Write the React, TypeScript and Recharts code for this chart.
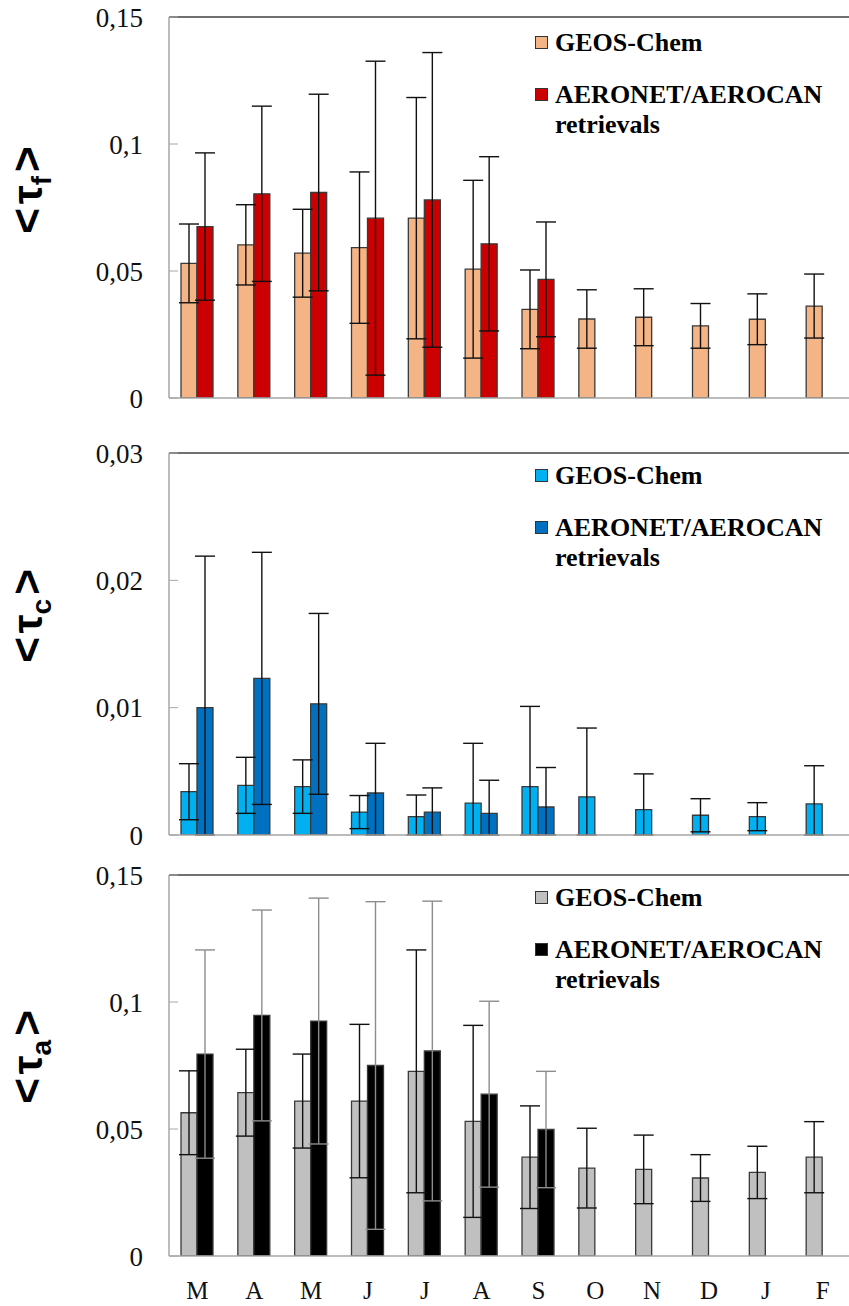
import React from 'react';
import { BarChart, Bar, XAxis, YAxis, ErrorBar, ReferenceLine, Legend } from 'recharts';

const months = ['M', 'A', 'M', 'J', 'J', 'A', 'S', 'O', 'N', 'D', 'J', 'F'];

// fine mode AOD
const fineModel = [0.053, 0.0603, 0.057, 0.0592, 0.0708, 0.0507, 0.0349, 0.0311, 0.0318, 0.0284, 0.031, 0.0362];
const fineModelErr = [0.0155, 0.0158, 0.0173, 0.0298, 0.0475, 0.035, 0.0155, 0.0115, 0.0112, 0.0088, 0.01, 0.0126];
const fineObs = [0.0675, 0.0804, 0.0809, 0.0708, 0.078, 0.0607, 0.0467, null, null, null, null, null];
const fineObsErr = [0.029, 0.0345, 0.0387, 0.0618, 0.058, 0.0343, 0.0226, null, null, null, null, null];

// coarse mode AOD
const coarseModel = [0.0034, 0.0039, 0.0038, 0.0018, 0.00144, 0.0025, 0.0038, 0.003, 0.002, 0.00155, 0.00144, 0.00244];
const coarseModelErr = [0.0022, 0.0022, 0.0021, 0.0013, 0.0017, 0.0047, 0.0063, 0.0054, 0.0028, 0.0013, 0.0011, 0.003];
const coarseObs = [0.01, 0.0123, 0.0103, 0.0033, 0.0018, 0.0017, 0.0022, null, null, null, null, null];
const coarseObsErr = [0.0119, 0.0099, 0.0071, 0.0039, 0.0019, 0.0026, 0.0031, null, null, null, null, null];

// total AOD
const totalModel = [0.0564, 0.0643, 0.061, 0.061, 0.0727, 0.053, 0.0389, 0.0346, 0.0341, 0.0307, 0.0329, 0.0389];
const totalModelErr = [0.0165, 0.0171, 0.0185, 0.0302, 0.0478, 0.0378, 0.0202, 0.0157, 0.0135, 0.0092, 0.0103, 0.014];
const totalObs = [0.0795, 0.0947, 0.0925, 0.075, 0.0807, 0.0637, 0.0498, null, null, null, null, null];
const totalObsErr = [0.041, 0.0415, 0.0484, 0.0645, 0.059, 0.0366, 0.0229, null, null, null, null, null];

const ticksFT = [0, 0.05, 0.1, 0.15];
const ticksC = [0, 0.01, 0.02, 0.03];

const modelName = 'GEOS-Chem';
const obsName = 'AERONET/AEROCAN retrievals';

// error bars stop at the axis, as in the original figure
const clipErr = (v: number | null, e: number | null) =>
  v == null || e == null ? null : [Math.min(e, v), e];

const build = (m: number[], me: number[], o: (number | null)[], oe: (number | null)[]) =>
  months.map((month, i) => ({
    month,
    model: m[i],
    modelErr: clipErr(m[i], me[i]),
    obs: o[i],
    obsErr: clipErr(o[i], oe[i]),
  }));

const serif = "'Liberation Serif', 'Times New Roman', serif";
const sans = "'Liberation Sans', Arial, sans-serif";

const fmt = (v: number) => String(v).replace('.', ',');

const LegendBox = ({ c1, c2 }: { c1: string; c2: string }) => {
  const marker = (c: string) => (
    <span style={{ display: 'inline-block', width: 11, height: 11, border: '1px solid #333', background: c, marginTop: 8, marginRight: 7, flex: 'none' }} />
  );
  return (
    <div style={{ fontFamily: serif, fontWeight: 'bold', fontSize: 26, lineHeight: '30px', color: '#000', textAlign: 'left' }}>
      <div style={{ display: 'flex', marginBottom: 22 }}>
        {marker(c1)}
        <span>{modelName}</span>
      </div>
      <div style={{ display: 'flex' }}>
        {marker(c2)}
        <span>AERONET/AEROCAN<br />retrievals</span>
      </div>
    </div>
  );
};

type PanelProps = {
  top: number;
  height: number;
  marginTop: number;
  axisHeight: number;
  data: any[];
  max: number;
  ticks: number[];
  c1: string;
  c2: string;
  obsErrColor: string;
  sub: string;
  titleY: number;
  legendTop: number;
  showMonths?: boolean;
};

const Panel = (p: PanelProps) => (
  <div style={{ position: 'absolute', left: 0, top: p.top }}>
    <BarChart
      width={851}
      height={p.height}
      data={p.data}
      margin={{ top: p.marginTop, right: 0, bottom: 0, left: 0 }}
      barSize={16}
      barGap={0}
    >
      <XAxis
        dataKey="month"
        height={p.axisHeight}
        axisLine={{ stroke: '#a6a6a6', strokeWidth: 1.5 }}
        tickLine={false}
        tick={p.showMonths ? { fontFamily: serif, fontSize: 25, fill: '#111' } : false}
        tickMargin={19}
        interval={0}
      />
      <YAxis
        width={169}
        domain={[0, p.max]}
        ticks={p.ticks}
        interval={0}
        allowDataOverflow
        tickFormatter={fmt}
        axisLine={{ stroke: '#a6a6a6', strokeWidth: 1.5 }}
        tickLine={{ stroke: '#a6a6a6' }}
        tickSize={-9}
        tickMargin={35}
        tick={{ fontFamily: serif, fontSize: 27, fill: '#111' }}
        label={{
          content: () => (
            <text
              transform={`translate(42,${p.titleY}) rotate(-90)`}
              textAnchor="middle"
              fontFamily={sans}
              fontWeight="bold"
              fontSize={44}
              fill="#000"
            >
              {'<'}
              <tspan dx={4} fontSize={42}>τ</tspan>
              <tspan dy={9} fontSize={28}>{p.sub}</tspan>
              <tspan dy={-9} dx={4} fontSize={44}>{'>'}</tspan>
            </text>
          ),
        }}
      />
      <ReferenceLine y={p.max} stroke="#404040" strokeWidth={1.5} />
      <Bar dataKey="model" name={modelName} fill={p.c1} stroke="#3a3a3a" strokeWidth={1.3} isAnimationActive={false}>
        <ErrorBar dataKey="modelErr" width={10} stroke="#111" strokeWidth={1.4} direction="y" />
      </Bar>
      <Bar dataKey="obs" name={obsName} fill={p.c2} stroke="#3a3a3a" strokeWidth={1.3} isAnimationActive={false}>
        <ErrorBar dataKey="obsErr" width={10} stroke={p.obsErrColor} strokeWidth={1.4} direction="y" />
      </Bar>
      <Legend
        layout="horizontal"
        verticalAlign="middle"
        align="center"
        wrapperStyle={{ top: p.legendTop, left: 535, width: 310 }}
        content={() => <LegendBox c1={p.c1} c2={p.c2} />}
      />
    </BarChart>
  </div>
);

export default function App() {
  return (
    <div style={{ position: 'absolute', left: 0, top: 0, width: 849, height: 1306, background: '#fff', overflow: 'hidden' }}>
      <Panel
        top={0}
        height={420}
        marginTop={17}
        axisHeight={22}
        data={build(fineModel, fineModelErr, fineObs, fineObsErr)}
        max={0.15}
        ticks={ticksFT}
        c1="#f5b486"
        c2="#cc0000"
        obsErrColor="#111"
        sub="f"
        titleY={190}
        legendTop={28}
      />
      <Panel
        top={420}
        height={432}
        marginTop={33}
        axisHeight={17}
        data={build(coarseModel, coarseModelErr, coarseObs, coarseObsErr)}
        max={0.03}
        ticks={ticksC}
        c1="#00b0f0"
        c2="#0070c0"
        obsErrColor="#111"
        sub="c"
        titleY={196}
        legendTop={41}
      />
      <Panel
        top={852}
        height={454}
        marginTop={23}
        axisHeight={50}
        data={build(totalModel, totalModelErr, totalObs, totalObsErr)}
        max={0.15}
        ticks={ticksFT}
        c1="#c0c0c0"
        c2="#000000"
        obsErrColor="#8c8c8c"
        sub="a"
        titleY={205}
        legendTop={31}
        showMonths
      />
    </div>
  );
}
